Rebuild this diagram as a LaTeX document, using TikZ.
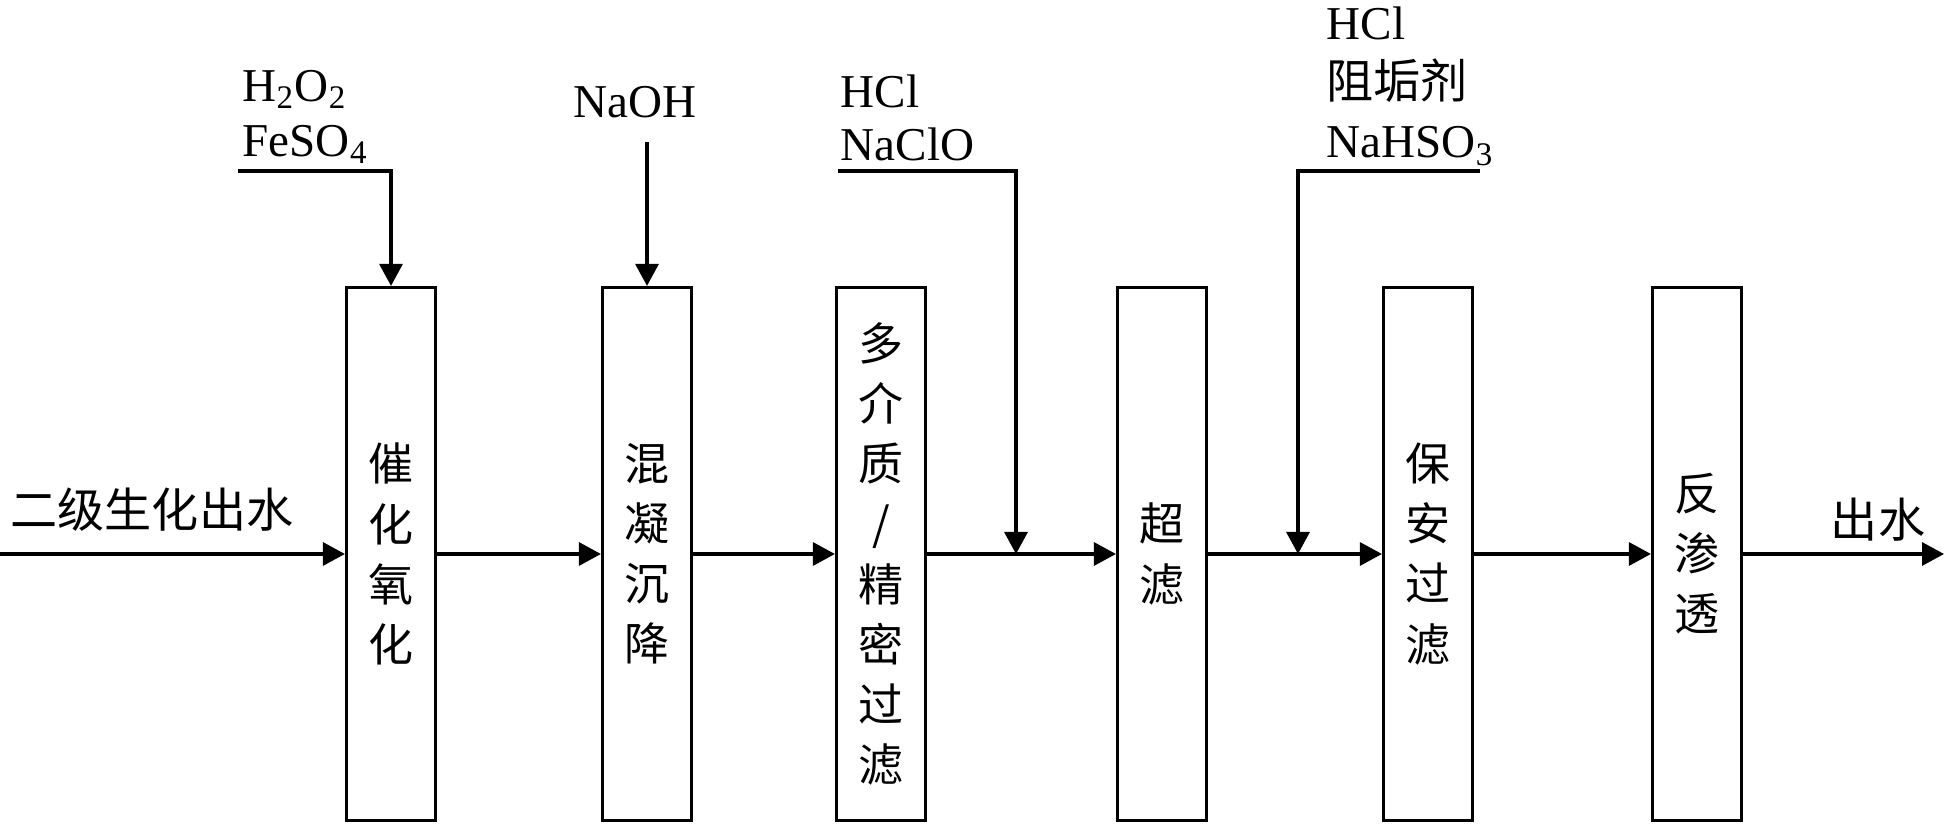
\documentclass[tikz,border=0pt]{standalone}
\usepackage{fontspec}
\setmainfont{Liberation Serif}
\newfontfamily\cjk{Noto Sans CJK SC}
\usetikzlibrary{arrows.meta}

\begin{document}
\begin{tikzpicture}[
        unit/.style={draw,line width=0.9pt,minimum width=0.89cm,minimum height=5.33cm,inner sep=0pt,align=center,font=\cjk\fontsize{12.8}{17.1}\selectfont},
        lbl/.style={inner sep=0pt,align=left,font=\fontsize{13.4}{15.1}\selectfont},
        flow/.style={line width=0.9pt,-{Triangle[length=2.2mm,width=2.3mm]}}]
        \useasboundingbox (0,0) rectangle (19.46,8.26);

        % treatment units
        \node[unit] (u1) at (3.91,2.72) {催\\化\\氧\\化};
        \node[unit] (u2) at (6.47,2.72) {混\\凝\\沉\\降};
        \node[unit] (u3) at (8.81,2.72) {多\\介\\质\\/\\精\\密\\过\\滤};
        \node[unit] (u4) at (11.62,2.72) {超\\滤};
        \node[unit] (u5) at (14.28,2.72) {保\\安\\过\\滤};
        \node[unit] (u6) at (16.97,2.72) {反\\渗\\透};

        % labels
        \node[lbl,anchor=west,font=\cjk\fontsize{13.4}{15.1}\selectfont] (win) at (0.10,3.16) {二级生化出水};
        \node[lbl,font=\cjk\fontsize{13.4}{15.1}\selectfont] (wout) at (18.78,3.06) {出水};
        \node[lbl,anchor=west,font=\fontsize{13.4}{15.6}\selectfont] (r1) at (2.42,7.09) {H\textsubscript{2}O\textsubscript{2}\\FeSO\textsubscript{4}};
        \node[lbl] (r2) at (6.35,7.24) {NaOH};
        \node[lbl,anchor=west] (r3) at (8.40,7.08) {HCl\\NaClO};
        \node[lbl,anchor=west,font=\fontsize{13.4}{16.8}\selectfont] (r4) at (13.26,7.40) {HCl\\{\cjk 阻垢剂}\\NaHSO\textsubscript{3}};

        \coordinate (in) at (0,2.72);
        \coordinate (out) at (19.44,2.72);
        \coordinate (f1) at (2.38,6.55);
        \coordinate (f2) at (6.47,6.84);
        \coordinate (f3) at (8.38,6.55);
        \coordinate (f4) at (14.80,6.55);
        \coordinate (j1) at (10.16,2.72);
        \coordinate (j2) at (12.98,2.72);

        % main line
        \draw[flow] (in) -- (u1);
        \draw[flow] (u1) -- (u2);
        \draw[flow] (u2) -- (u3);
        \draw[flow] (u3) -- (u4);
        \draw[flow] (u4) -- (u5);
        \draw[flow] (u5) -- (u6);
        \draw[flow] (u6) -- (out);

        % dosing
        \draw[flow] (f1) -| (u1);
        \draw[flow] (f2) -- (u2);
        \draw[flow] (f3) -| (j1);
        \draw[flow] (f4) -| (j2);
\end{tikzpicture}
\end{document}
